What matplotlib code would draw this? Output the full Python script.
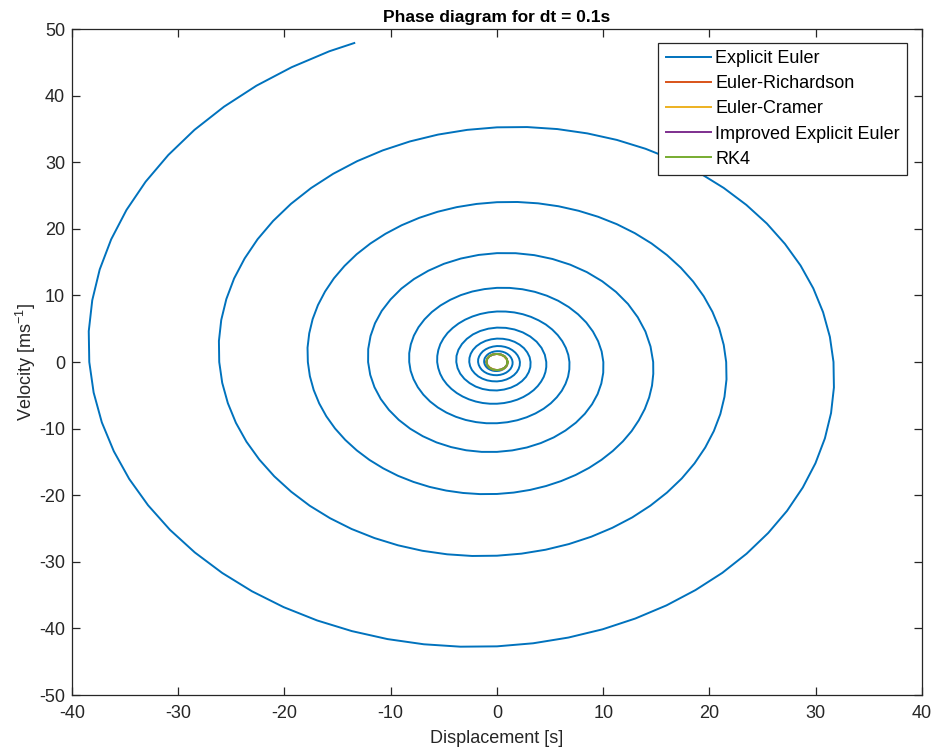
import matplotlib.pyplot as plt

plt.rcParams['font.family'] = ['Liberation Sans', 'DejaVu Sans']
plt.rcParams['axes.unicode_minus'] = False
plt.rcParams['mathtext.fontset'] = 'custom'
plt.rcParams['mathtext.rm'] = 'Liberation Sans'
plt.rcParams['mathtext.it'] = 'Liberation Sans:italic'

# Explicit Euler, dt = 0.1 s: displacement and velocity along the trajectory
euler_x = [
    1.00, 0.99, 0.95, 0.86, 0.74, 0.59, 0.41, 0.21,
    0.00, -0.22, -0.43, -0.63, -0.82, -0.97, -1.09, -1.17,
    -1.21, -1.20, -1.15, -1.04, -0.90, -0.71, -0.50, -0.26,
    0.00, 0.26, 0.52, 0.77, 0.99, 1.18, 1.32, 1.42,
    1.47, 1.46, 1.39, 1.27, 1.09, 0.87, 0.60, 0.31,
    0.00, -0.32, -0.63, -0.93, -1.20, -1.43, -1.60, -1.72,
    -1.78, -1.77, -1.68, -1.53, -1.32, -1.05, -0.73, -0.38,
    0.00, 0.39, 0.77, 1.13, 1.45, 1.73, 1.94, 2.09,
    2.16, 2.14, 2.04, 1.86, 1.60, 1.27, 0.89, 0.46,
    0.00, -0.47, -0.93, -1.37, -1.76, -2.09, -2.36, -2.53,
    -2.61, -2.59, -2.47, -2.25, -1.94, -1.54, -1.07, -0.55,
    0.00, 0.57, 1.13, 1.66, 2.13, 2.54, 2.85, 3.07,
    3.16, 3.14, 2.99, 2.73, 2.35, 1.87, 1.30, 0.67,
    0.00, -0.69, -1.37, -2.01, -2.58, -3.07, -3.46, -3.71,
    -3.83, -3.81, -3.63, -3.30, -2.84, -2.26, -1.58, -0.81,
    0.00, 0.83, 1.65, 2.43, 3.13, 3.73, 4.19, 4.50,
    4.64, 4.64, 4.56, 4.40, 4.15, 3.84, 3.45, 2.99, 2.48, 1.91, 1.30, 0.66,
    0.00, -0.67, -1.34, -2.00, -2.64, -3.24, -3.79, -4.29, -4.72, -5.08, -5.35, -5.53,
    -5.63, -5.62, -5.52, -5.33, -5.03, -4.65, -4.17, -3.62, -3.00, -2.31, -1.58, -0.80,
    0.00, 0.82, 1.63, 2.43, 3.20, 3.92, 4.60, 5.20, 5.72, 6.15, 6.48, 6.71,
    6.82, 6.81, 6.69, 6.45, 6.10, 5.63, 5.06, 4.39, 3.63, 2.80, 1.91, 0.97,
    0.00, -0.99, -1.97, -2.94, -3.87, -4.76, -5.57, -6.30, -6.93, -7.45, -7.85, -8.13,
    -8.26, -8.26, -8.11, -7.82, -7.39, -6.82, -6.13, -5.32, -4.40, -3.40, -2.32, -1.18,
    0.00, 1.20, 2.39, 3.56, 4.69, 5.76, 6.75, 7.63, 8.40, 9.03, 9.52, 9.85,
    10.01, 10.00, 9.82, 9.47, 8.95, 8.27, 7.43, 6.44, 5.34, 4.12, 2.81, 1.43,
    0.00, -1.45, -2.90, -4.32, -5.69, -6.98, -8.17, -9.24, -10.17, -10.94, -11.53, -11.93,
    -12.13, -12.12, -11.90, -11.48, -10.85, -10.01, -9.00, -7.81, -6.46, -4.99, -3.40, -1.73,
    0.00, 1.76, 3.51, 5.23, 6.89, 8.46, 9.90, 11.20, 12.33, 13.25, 13.97, 14.45,
    14.70, 14.71, 14.59, 14.32, 13.91, 13.35, 12.67, 11.85,
    10.90, 9.84, 8.67, 7.40, 6.04, 4.61, 3.12, 1.58,
    0.00, -1.60, -3.19, -4.78, -6.34, -7.86, -9.32, -10.70,
    -12.00, -13.20, -14.28, -15.24, -16.06, -16.73, -17.25, -17.61,
    -17.80, -17.83, -17.67, -17.35, -16.85, -16.18, -15.35, -14.35,
    -13.21, -11.92, -10.50, -8.97, -7.32, -5.59, -3.78, -1.91,
    0.00, 1.93, 3.87, 5.79, 7.68, 9.52, 11.29, 12.97,
    14.54, 15.99, 17.30, 18.46, 19.46, 20.28, 20.91, 21.34,
    21.57, 21.60, 21.41, 21.02, 20.41, 19.60, 18.59, 17.39,
    16.00, 14.44, 12.73, 10.86, 8.87, 6.77, 4.58, 2.31,
    0.00, -2.34, -4.69, -7.02, -9.31, -11.53, -13.68, -15.71,
    -17.62, -19.37, -20.96, -22.37, -23.58, -24.57, -25.33, -25.86,
    -26.14, -26.17, -25.95, -25.47, -24.74, -23.75, -22.53, -21.07,
    -19.39, -17.50, -15.42, -13.16, -10.75, -8.20, -5.55, -2.80,
    0.00, 2.84, 5.68, 8.50, 11.28, 13.98, 16.57, 19.04,
    21.34, 23.47, 25.40, 27.10, 28.57, 29.77, 30.69, 31.33,
    31.67, 31.71, 31.44, 30.86, 29.97, 28.78, 27.30, 25.53,
    23.49, 21.21, 18.68, 15.95, 13.02, 9.94, 6.72, 3.40,
    0.00, -3.44, -6.88, -10.30, -13.66, -16.93, -20.08, -23.06,
    -25.86, -28.44, -30.78, -32.84, -34.61, -36.06, -37.19, -37.96,
    -38.37, -38.42, -38.09, -37.39, -36.31, -34.87, -33.07, -30.93,
    -28.47, -25.69, -22.64, -19.32, -15.78, -13.43,
]
euler_v = [
    0.00, -0.24, -0.48, -0.71, -0.91, -1.08, -1.22, -1.31,
    -1.35, -1.34, -1.28, -1.16, -1.00, -0.80, -0.55, -0.29,
    0.00, 0.29, 0.58, 0.85, 1.10, 1.31, 1.47, 1.58,
    1.63, 1.62, 1.55, 1.41, 1.21, 0.96, 0.67, 0.35,
    0.00, -0.35, -0.70, -1.04, -1.33, -1.59, -1.79, -1.92,
    -1.98, -1.96, -1.87, -1.71, -1.47, -1.17, -0.81, -0.42,
    0.00, 0.43, 0.85, 1.25, 1.62, 1.92, 2.16, 2.32,
    2.40, 2.38, 2.27, 2.07, 1.78, 1.41, 0.99, 0.51,
    0.00, -0.52, -1.03, -1.52, -1.96, -2.33, -2.62, -2.82,
    -2.91, -2.88, -2.75, -2.50, -2.16, -1.71, -1.19, -0.62,
    0.00, 0.63, 1.25, 1.84, 2.37, 2.82, 3.18, 3.41,
    3.52, 3.49, 3.33, 3.03, 2.61, 2.08, 1.45, 0.75,
    0.00, -0.77, -1.52, -2.23, -2.87, -3.42, -3.85, -4.13,
    -4.27, -4.23, -4.04, -3.68, -3.16, -2.52, -1.75, -0.91,
    0.00, 0.93, 1.84, 2.70, 3.48, 4.15, 4.66, 5.01,
    5.17, 5.13, 4.89, 4.45, 3.83, 3.05, 2.13, 1.10,
    0.00, -0.75, -1.50, -2.23, -2.94, -3.60, -4.22, -4.77, -5.25, -5.65, -5.95, -6.16,
    -6.26, -6.26, -6.15, -5.93, -5.60, -5.17, -4.65, -4.03, -3.34, -2.58, -1.76, -0.89,
    0.00, 0.91, 1.81, 2.70, 3.56, 4.37, 5.11, 5.78, 6.36, 6.84, 7.21, 7.46,
    7.59, 7.58, 7.45, 7.18, 6.78, 6.26, 5.63, 4.88, 4.04, 3.12, 2.13, 1.08,
    0.00, -1.10, -2.20, -3.27, -4.31, -5.29, -6.20, -7.01, -7.71, -8.29, -8.74, -9.04,
    -9.19, -9.19, -9.02, -8.70, -8.22, -7.59, -6.82, -5.92, -4.90, -3.78, -2.58, -1.31,
    0.00, 1.33, 2.66, 3.97, 5.22, 6.41, 7.51, 8.49, 9.34, 10.05, 10.59, 10.95,
    11.14, 11.13, 10.93, 10.54, 9.96, 9.20, 8.26, 7.17, 5.94, 4.58, 3.12, 1.59,
    0.00, -1.61, -3.22, -4.81, -6.33, -7.77, -9.10, -10.29, -11.32, -12.17, -12.83, -13.27,
    -13.49, -13.49, -13.25, -12.77, -12.07, -11.14, -10.01, -8.69, -7.19, -5.55, -3.78, -1.92,
    0.00, 1.95, 3.91, 5.82, 7.67, 9.41, 11.02, 12.46, 13.71, 14.75, 15.54, 16.08,
    16.35, 16.34, 16.05, 15.47, 14.62, 13.50, 12.13, 10.53, 8.72, 6.72, 4.58, 2.33,
    0.00, -1.77, -3.55, -5.32, -7.05, -8.74, -10.37, -11.91,
    -13.35, -14.68, -15.89, -16.96, -17.87, -18.62, -19.20, -19.60,
    -19.81, -19.83, -19.66, -19.30, -18.75, -18.00, -17.08, -15.97,
    -14.70, -13.26, -11.69, -9.98, -8.15, -6.22, -4.20, -2.12,
    0.00, 2.15, 4.31, 6.44, 8.55, 10.59, 12.56, 14.43,
    16.18, 17.79, 19.25, 20.54, 21.65, 22.56, 23.26, 23.74,
    24.00, 24.03, 23.83, 23.39, 22.71, 21.81, 20.69, 19.35,
    17.81, 16.07, 14.16, 12.09, 9.87, 7.53, 5.09, 2.57,
    0.00, -2.61, -5.22, -7.81, -10.36, -12.83, -15.22, -17.48,
    -19.60, -21.56, -23.33, -24.89, -26.23, -27.33, -28.18, -28.77,
    -29.08, -29.12, -28.87, -28.34, -27.52, -26.43, -25.07, -23.45,
    -21.58, -19.47, -17.16, -14.64, -11.96, -9.13, -6.17, -3.12,
    0.00, 3.16, 6.32, 9.46, 12.55, 15.55, 18.44, 21.18,
    23.75, 26.12, 28.26, 30.16, 31.78, 33.12, 34.15, 34.86,
    35.24, 35.28, 34.98, 34.33, 33.35, 32.02, 30.37, 28.41,
    26.14, 23.59, 20.79, 17.74, 14.49, 11.06, 7.48, 3.78,
    0.00, -3.82, -7.66, -11.46, -15.20, -18.84, -22.34, -25.66,
    -28.78, -31.65, -34.24, -36.54, -38.51, -40.13, -41.37, -42.23,
    -42.69, -42.74, -42.38, -41.60, -40.40, -38.80, -36.80, -34.42,
    -31.67, -28.59, -25.19, -21.50, -17.56, -13.40, -9.06, -4.58,
    0.00, 4.63, 9.28, 13.89, 18.42, 22.83, 27.07, 31.09,
    34.86, 38.34, 41.49, 44.27, 46.66, 47.90,
]

# bounded orbit shared by Euler-Richardson, improved Euler and RK4
orbit_x = [1.00, 0.92, 0.71, 0.38, 0.00, -0.38, -0.71, -0.92, -1.00,
           -0.92, -0.71, -0.38, 0.00, 0.38, 0.71, 0.92, 1.00]
orbit_v = [0.00, -0.47, -0.87, -1.13, -1.22, -1.13, -0.87, -0.47, 0.00,
           0.47, 0.87, 1.13, 1.22, 1.13, 0.87, 0.47, 0.00]

# Euler-Cramer orbit (slightly tilted ellipse)
cramer_x = [1.00, 0.94, 0.75, 0.43, 0.04, -0.35, -0.68, -0.90, -1.00,
            -0.94, -0.75, -0.43, -0.04, 0.35, 0.68, 0.90, 1.00]
cramer_v = [-0.06, -0.52, -0.90, -1.14, -1.21, -1.10, -0.81, -0.41, 0.06,
            0.52, 0.90, 1.14, 1.21, 1.10, 0.81, 0.41, -0.06]

methods = ['Explicit Euler', 'Euler-Richardson', 'Euler-Cramer',
           'Improved Explicit Euler', 'RK4']
colors = ['#0072BD', '#D95319', '#EDB120', '#7E2F8E', '#77AC30']

fig = plt.figure(figsize=(9.37, 7.54), dpi=100)
ax = fig.add_axes([0.0768, 0.0782, 0.9072, 0.8833])

lw = 1.4
ax.plot(euler_x, euler_v, color=colors[0], lw=lw, label=methods[0])
ax.plot(orbit_x, orbit_v, color=colors[1], lw=lw, label=methods[1])
ax.plot(cramer_x, cramer_v, color=colors[2], lw=lw, label=methods[2])
ax.plot(orbit_x, orbit_v, color=colors[3], lw=lw, label=methods[3])
ax.plot(orbit_x, orbit_v, color=colors[4], lw=lw, label=methods[4])

ax.set_xlim(-40, 40)
ax.set_ylim(-50, 50)
ax.set_xticks(range(-40, 41, 10))
ax.set_yticks(range(-50, 51, 10))
ax.tick_params(direction='in', length=6, width=0.9, top=True, right=True,
               labelsize=13, colors='#262626')
ax.tick_params(axis='x', pad=7)
ax.tick_params(axis='y', pad=5)
for spine in ax.spines.values():
    spine.set_color('#262626')
    spine.set_linewidth(0.9)

ax.set_xlabel('Displacement [s]', fontsize=13, color='#262626', labelpad=6)
ax.set_ylabel('Velocity [ms$^{-1}$]', fontsize=13, color='#262626', labelpad=1)
ax.set_title('Phase diagram for dt = 0.1s', fontsize=12.5, fontweight='bold',
             pad=5)

leg = ax.legend(loc='upper right', bbox_to_anchor=(0.9824, 0.979),
                borderaxespad=0, fancybox=False, framealpha=1,
                edgecolor='#262626', fontsize=13, handlelength=2.5,
                handletextpad=0.25, labelspacing=0.45, borderpad=0.4)
leg.get_frame().set_linewidth(0.9)

fig.savefig('out.png', dpi=100)
